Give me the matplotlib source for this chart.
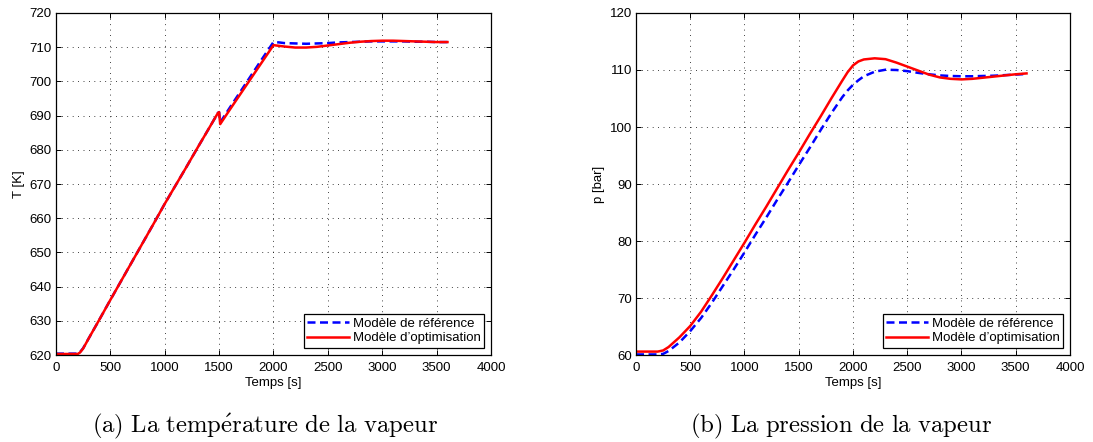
import matplotlib
matplotlib.use("Agg")
import matplotlib.pyplot as plt

# steam temperature [K]
t_T = [0, 100, 200, 220, 250, 300, 400, 500, 600, 700, 800, 900, 1000, 1100,
       1200, 1300, 1400, 1490, 1500, 1510, 1600, 1700, 1800, 1900, 2000, 2050,
       2100, 2200, 2300, 2400, 2500, 2600, 2700, 2800, 2900, 3000, 3100, 3200,
       3300, 3400, 3500, 3600]
T_ref = [620.4, 620.4, 620.4, 620.8, 622.0, 624.8, 630.4, 636.1, 641.7, 647.3,
         652.9, 658.5, 664.2, 669.6, 675.0, 680.5, 685.9, 690.8, 691.0, 688.0,
         692.4, 697.2, 702.0, 706.8, 711.5, 711.4, 711.2, 711.1, 711.0, 711.1,
         711.2, 711.4, 711.5, 711.6, 711.7, 711.7, 711.7, 711.7, 711.6, 711.6,
         711.5, 711.5]
T_opt = [620.3, 620.3, 620.3, 620.7, 621.9, 624.8, 630.4, 636.1, 641.7, 647.3,
         652.9, 658.5, 664.2, 669.6, 675.0, 680.5, 685.9, 690.8, 691.0, 687.5,
         691.8, 696.5, 701.2, 705.9, 710.6, 710.4, 710.2, 709.9, 709.9, 710.1,
         710.5, 710.9, 711.3, 711.6, 711.8, 711.9, 711.9, 711.8, 711.7, 711.6,
         711.5, 711.5]

# steam pressure [bar]
t_p = [0, 100, 200, 250, 300, 400, 500, 600, 700, 800, 900, 1000, 1100, 1200,
       1300, 1400, 1500, 1600, 1700, 1800, 1900, 1950, 2000, 2050, 2100, 2200,
       2300, 2400, 2500, 2600, 2700, 2800, 2900, 3000, 3100, 3200, 3300, 3400,
       3500, 3600]
p_ref = [60.1, 60.1, 60.1, 60.2, 60.7, 62.2, 64.2, 66.5, 69.2, 72.1, 75.0,
         78.0, 81.1, 84.1, 87.2, 90.2, 93.3, 96.3, 99.4, 102.4, 105.2, 106.4,
         107.4, 108.2, 108.9, 109.7, 110.05, 110.0, 109.8, 109.5, 109.25,
         109.05, 108.95, 108.9, 108.9, 108.95, 109.0, 109.1, 109.2, 109.3]
p_opt = [60.6, 60.6, 60.6, 60.8, 61.4, 63.1, 65.1, 67.6, 70.5, 73.5, 76.6,
         79.7, 82.9, 86.0, 89.2, 92.4, 95.5, 98.7, 101.8, 105.0, 108.1, 109.6,
         110.8, 111.5, 111.85, 112.05, 111.9, 111.3, 110.6, 109.9, 109.2,
         108.7, 108.45, 108.35, 108.45, 108.65, 108.85, 109.05, 109.25, 109.4]

labels = ["Modèle de référence", "Modèle d\u2019optimisation"]
# captions set in Computer Modern through mathtext
captions = [r"$\mathrm{(a)\ La\ temp\acute{e}rature\ de\ la\ vapeur}$",
            r"$\mathrm{(b)\ La\ pression\ de\ la\ vapeur}$"]

plt.rcParams["font.family"] = ["Liberation Sans", "DejaVu Sans"]
plt.rcParams["font.size"] = 9.5
plt.rcParams["mathtext.fontset"] = "cm"

fig = plt.figure(figsize=(10.93, 4.42), dpi=100)
ax_T = fig.add_axes([0.0512, 0.1968, 0.398, 0.7738])
ax_p = fig.add_axes([0.5819, 0.1968, 0.397, 0.7738])


def style_axes(ax, ylim, yticks, ylabel):
    ax.set_xlim(0, 4000)
    ax.set_ylim(*ylim)
    ax.set_xticks(range(0, 4001, 500))
    ax.set_yticks(yticks)
    ax.set_xlabel("Temps [s]", labelpad=2)
    ax.set_ylabel(ylabel, labelpad=3)
    ax.grid(True, color="black", lw=0.6, linestyle=(0, (1, 5.5)))
    ax.tick_params(direction="in", top=True, right=True, length=3.5,
                   width=0.7, pad=3, labelsize=9.5)
    ax.tick_params(axis="x", pad=5)
    for s in ax.spines.values():
        s.set_linewidth(0.9)
    leg = ax.legend(loc="lower right", fancybox=False, framealpha=1,
                    edgecolor="black", handlelength=3.2, borderpad=0.25,
                    labelspacing=0.2, handletextpad=0.25, borderaxespad=0.55,
                    fontsize=9.5)
    leg.get_frame().set_linewidth(0.9)


ax_T.plot(t_T, T_ref, color="#0000ff", lw=1.8, linestyle=(0, (3.2, 1.8)),
          label=labels[0])
ax_T.plot(t_T, T_opt, color="#ff0000", lw=1.8, label=labels[1])
style_axes(ax_T, (620, 720), range(620, 721, 10), "T [K]")

ax_p.plot(t_p, p_ref, color="#0000ff", lw=1.8, linestyle=(0, (3.2, 1.8)),
          label=labels[0])
ax_p.plot(t_p, p_opt, color="#ff0000", lw=1.8, label=labels[1])
style_axes(ax_p, (60, 120), range(60, 121, 10), "p [bar]")

fig.text(0.2425, 0.021, captions[0], ha="center", va="baseline",
         fontsize=17.8)
fig.text(0.770, 0.021, captions[1], ha="center", va="baseline",
         fontsize=17.8)

fig.savefig("out.png", dpi=100)
